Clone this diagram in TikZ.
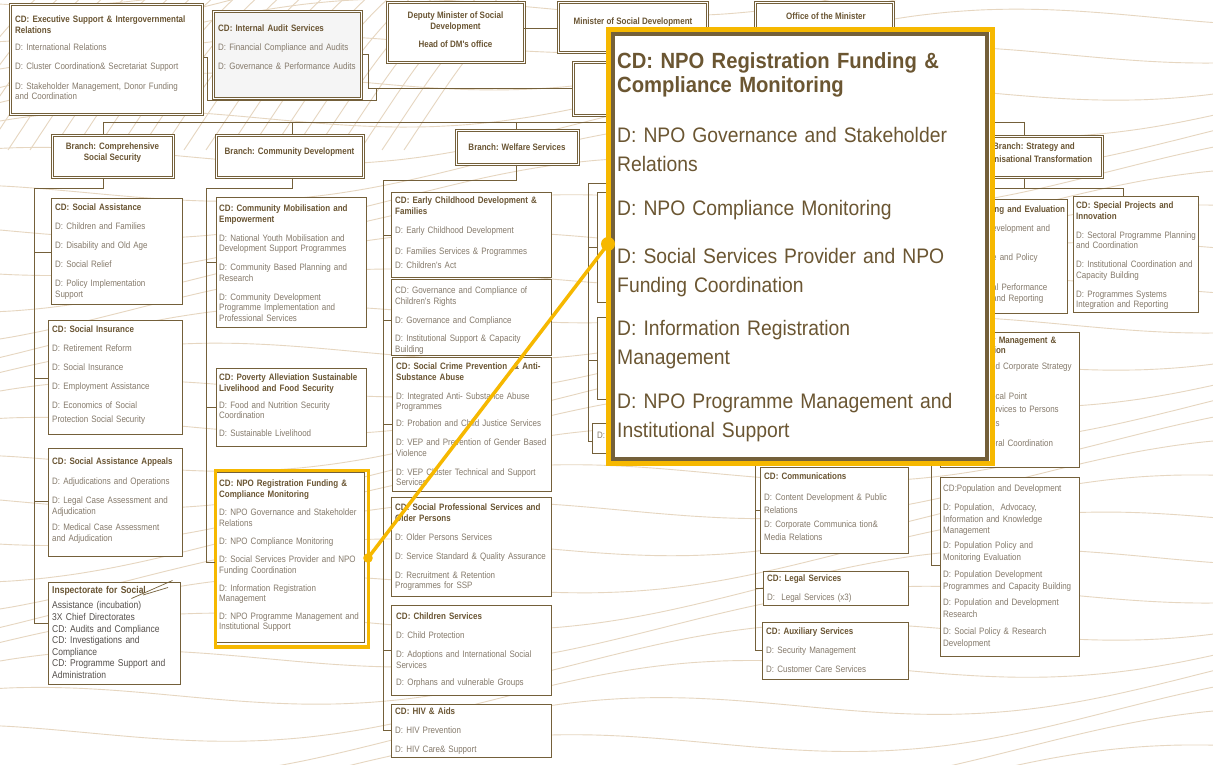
\documentclass[tikz,border=0pt]{standalone}
\usepackage{fontspec}
\setmainfont{Liberation Sans}
\newfontfamily\boxfont[FakeStretch=0.86]{Liberation Sans}
\newfontfamily\zoomfont[FakeStretch=0.92]{Liberation Sans}
\definecolor{boxline}{HTML}{74603A}
\definecolor{titlec}{HTML}{6A5533}
\definecolor{itemc}{HTML}{857A6B}
\definecolor{inspc}{HTML}{55504C}
\definecolor{zoomc}{HTML}{6B5632}
\definecolor{hl}{HTML}{F6B800}
\definecolor{wavec}{HTML}{E6D6C0}
\newcommand{\ttl}[1]{{\bfseries\color{titlec}#1}}

\begin{document}
\begin{tikzpicture}[x=1pt,y=-1pt,
  frame/.style={draw=boxline, line width=0.9pt, fill=white, inner sep=0pt, anchor=north west, rectangle},
  dframe/.style={frame, line width=0.75pt, double=white, double distance=1.4pt},
  btext/.style={inner sep=0pt, anchor=north west, align=left, text width=240pt, text=itemc,
    font=\boxfont\fontsize{9.3}{10.6}\selectfont},
  ctext/.style={inner sep=0pt, align=center, text=titlec, font=\boxfont\bfseries\fontsize{9.3}{11}\selectfont},
  link/.style={draw=boxline, line width=0.9pt},
  wave/.style={draw=wavec, line width=0.9pt},
  scribble/.style={draw=boxline, line width=0.7pt},
  callout/.style={draw=hl, line width=3.5pt},
]
\useasboundingbox (0,0) rectangle (1213,765);
\fill[white] (0,0) rectangle (1213,765);

% decorative background waves
\begin{scope}
  \clip (0,0) rectangle (1213,765);
  \foreach \k in {0,...,31} {
    \draw[wave] plot[smooth, domain=-20:1240, samples=40]
      (\x, {\k*30 - 40 - 0.08*\x + 22*sin(0.45*\x + 40*\k)});
  }
  \foreach \k in {0,...,22} {
    \draw[wave] (\k*22-80,150) .. controls (\k*22-40,90) and (\k*22-10,40) .. (\k*22+40,-5);
  }
\end{scope}

% ---------- top row ----------
\node[dframe, minimum width=192pt, minimum height=110pt] (exec) at (10,4) {};
\node[btext] (exec-t) at (15,15.5) {\ttl{CD: Executive Support \& Intergovernmental}\\\ttl{Relations}\\[6.5pt]D: International Relations\\[9pt]D: Cluster Coordination\& Secretariat Support\\[9pt]D: Stakeholder Management, Donor Funding\\and Coordination};

\node[dframe, fill=black!4, minimum width=148pt, minimum height=87pt] (audit) at (213,11) {};
\node[btext] (audit-t) at (218,24.5) {\ttl{CD: Internal Audit Services}\\[8pt]D: Financial Compliance and Audits\\[9pt]D: Governance  \& Performance Audits};

\node[dframe, minimum width=137pt, minimum height=60pt] (dm) at (387,2) {};
\node[ctext, anchor=north] (dm-t) at (455.5,12) {Deputy Minister of Social\\Development\\[7pt]Head of DM's office};

\node[dframe, minimum width=149pt, minimum height=50pt] (min) at (558,2) {};
\node[ctext] (min-t) at (633,22) {Minister of Social Development};

\node[dframe, minimum width=138pt, minimum height=40pt] (office) at (755,2) {};
\node[ctext] (office-t) at (826,16) {Office of the Minister};

\node[dframe, minimum width=110pt, minimum height=53pt] (dg) at (573,62) {};

% top connectors
\coordinate (dmj) at (524,28);
\draw[link] (dmj) -- (dmj -| min.west);
\coordinate (ex1) at (207,57);
\coordinate (ex2) at (207,100);
\coordinate (ex3) at (376,100);
\coordinate (ex4) at (376,88);
\draw[link] (ex1 -| exec.east) -- (ex1) -- (ex2) -- (ex3) -- (ex4);
\coordinate (au1) at (368,54);
\coordinate (au2) at (368,88);
\draw[link] (au1 -| audit.east) -- (au1) -- (au2) -- (au2 -| dg.west);

% main bus
\coordinate (busL) at (103,122);
\coordinate (busCD) at (292,122);
\coordinate (busWS) at (516,122);
\coordinate (busST) at (1024,122);
\draw[link] (busL) -- (busST);
\draw[link] (dg.south) -- (dg.south |- busL);

% ---------- branches ----------
\node[dframe, minimum width=121pt, minimum height=42pt] (bcss) at (52,135) {};
\node[ctext] (bcss-t) at (112.5,152.5) {Branch: Comprehensive\\Social Security};
\node[dframe, minimum width=147pt, minimum height=42pt] (bcd) at (216,135) {};
\node[ctext] (bcd-t) at (289.5,152) {Branch: Community Development};
\node[dframe, minimum width=122pt, minimum height=34pt] (bws) at (456,130) {};
\node[ctext] (bws-t) at (517,147) {Branch: Welfare Services};
\node[dframe, minimum width=142pt, minimum height=41pt] (bst) at (960,136) {};
\node[ctext, font=\boxfont\bfseries\fontsize{9.3}{13}\selectfont] (bst-t) at (1034,153.5) {Branch: Strategy and\\Organisational Transformation};

\draw[link] (busL) -- (busL |- bcss.north);
\draw[link] (busCD) -- (busCD |- bcd.north);
\draw[link] (busWS) -- (busWS |- bws.north);
\draw[link] (busST) -- (busST |- bst.north);

% ---------- Comprehensive Social Security ----------
\node[frame, minimum width=131pt, minimum height=106pt] (sa) at (51,198) {};
\node[btext] (sa-t) at (55,203.5) {\ttl{CD: Social Assistance}\\[8.5pt]D: Children and Families\\[8.5pt]D: Disability and Old Age\\[8.5pt]D: Social Relief\\[8.5pt]D: Policy Implementation\\Support};

\node[frame, minimum width=134pt, minimum height=114pt] (si) at (48,320) {};
\node[btext] (si-t) at (52,325.5) {\ttl{CD: Social Insurance}\\[8.5pt]D: Retirement Reform\\[8.5pt]D: Social Insurance\\[8.5pt]D: Employment Assistance\\[8.5pt]D: Economics of Social\\[3pt]Protection Social Security};

\node[frame, minimum width=134pt, minimum height=108pt] (sap) at (48,448) {};
\node[btext] (sap-t) at (52,457.5) {\ttl{CD: Social Assistance Appeals}\\[9pt]D: Adjudications and Operations\\[9pt]D: Legal Case Assessment and\\Adjudication\\[6pt]D: Medical Case Assessment\\and Adjudication};

\node[frame, minimum width=132pt, minimum height=102pt] (insp) at (48,582) {};
\node[btext, text=inspc, font=\boxfont\fontsize{9.9}{11.6}\selectfont] (insp-t) at (52,586.5) {\ttl{Inspectorate for Social}\\[3.4pt]Assistance (incubation)\\3X Chief Directorates\\CD: Audits and Compliance\\CD: Investigations and\\Compliance\\CD: Programme Support and\\Administration};
\draw[scribble] (131.5,598.5) -- (172.5,580.5);
\draw[scribble] (143,595) -- (168,587.5);

\coordinate (c1top) at (103,188);
\coordinate (c1a) at (34,188);
\coordinate (c1b) at (34,623);
\draw[link] (c1top |- bcss.south) -- (c1top) -- (c1a) -- (c1b) -- (c1b -| insp.west);
\coordinate (t-sa) at (34,252);
\coordinate (t-si) at (34,378);
\coordinate (t-sap) at (34,501);
\draw[link] (t-sa) -- (t-sa -| sa.west);
\draw[link] (t-si) -- (t-si -| si.west);
\draw[link] (t-sap) -- (t-sap -| sap.west);

% ---------- Community Development ----------
\node[frame, minimum width=150pt, minimum height=130pt] (cm) at (216,197) {};
\node[btext] (cm-t) at (219,204.5) {\ttl{CD: Community Mobilisation and}\\\ttl{Empowerment}\\[8.4pt]D: National Youth Mobilisation and\\Development Support Programmes\\[8.4pt]D: Community Based Planning and\\Research\\[8.4pt]D: Community Development\\Programme Implementation and\\Professional Services};

\node[frame, minimum width=150pt, minimum height=78pt] (pov) at (216,368) {};
\node[btext] (pov-t) at (219,373.5) {\ttl{CD: Poverty Alleviation Sustainable}\\\ttl{Livelihood and Food Security}\\[6.5pt]D: Food and Nutrition Security\\Coordination\\[7pt]D: Sustainable Livelihood};

\node[frame, minimum width=149pt, minimum height=170pt] (npo) at (215,472) {};
\node[btext] (npo-t) at (219,479.5) {\ttl{CD: NPO Registration Funding \&}\\\ttl{Compliance Monitoring}\\[8pt]D: NPO Governance and Stakeholder\\Relations\\[7.5pt]D: NPO Compliance Monitoring\\[8pt]D: Social Services Provider and NPO\\Funding Coordination\\[7pt]D: Information Registration\\Management\\[7pt]D: NPO Programme Management and\\Institutional Support};
\node[draw=hl, line width=3.6pt, inner sep=0pt, anchor=north west, minimum width=153pt, minimum height=176.5pt] (npo-hl) at (213.5,468.5) {};

\coordinate (c2top) at (292,188);
\coordinate (c2a) at (206,188);
\coordinate (c2b) at (206,562);
\draw[link] (c2top |- bcd.south) -- (c2top) -- (c2a) -- (c2b) -- (c2b -| npo.west);
\coordinate (t-cm) at (206,262);
\coordinate (t-pov) at (206,407);
\draw[link] (t-cm) -- (t-cm -| cm.west);
\draw[link] (t-pov) -- (t-pov -| pov.west);

% ---------- Welfare Services ----------
\node[frame, minimum width=160pt, minimum height=85pt] (ecd) at (391,192) {};
\node[btext] (ecd-t) at (395,196.5) {\ttl{CD: Early Childhood Development \&}\\\ttl{Families}\\[8.4pt]D: Early Childhood Development\\[10.4pt]D: Families Services \& Programmes\\[3.4pt]D: Children's Act};

\node[frame, minimum width=160pt, minimum height=76pt] (gov) at (391,279) {};
\node[btext] (gov-t) at (395,286.5) {CD: Governance and Compliance of\\Children's Rights\\[9pt]D: Governance and Compliance\\[7.4pt]D: Institutional Support \& Capacity\\Building};

\node[frame, minimum width=159pt, minimum height=134pt] (scp) at (392,357) {};
\node[btext] (scp-t) at (396,362.5) {\ttl{CD: Social Crime Prevention \ \& Anti-}\\\ttl{Substance Abuse}\\[8.4pt]D: Integrated Anti- Substance Abuse\\Programmes\\[6.4pt]D: Probation and Child Justice Services\\[8.4pt]D: VEP and Prevention of Gender Based\\Violence\\[8.4pt]D: VEP Cluster Technical and Support\\Services};

\node[frame, minimum width=160pt, minimum height=99pt] (spo) at (391,497) {};
\node[btext] (spo-t) at (395,503.5) {\ttl{CD: Social Professional Services and}\\\ttl{Older Persons}\\[8.4pt]D: Older Persons Services\\[8.4pt]D: Service Standard \& Quality Assurance\\[8.4pt]D: Recruitment \& Retention\\Programmes for SSP};

\node[frame, minimum width=160pt, minimum height=90pt] (chs) at (391,605) {};
\node[btext] (chs-t) at (396,612.5) {\ttl{CD: Children Services}\\[8.4pt]D: Child Protection\\[8.4pt]D: Adoptions and International Social\\Services\\[7pt]D: Orphans and vulnerable Groups};

\node[frame, minimum width=160pt, minimum height=53pt] (hiv) at (391,704) {};
\node[btext] (hiv-t) at (395,707.5) {\ttl{CD: HIV \& Aids}\\[8.4pt]D: HIV Prevention\\[8.4pt]D: HIV Care\& Support};

\coordinate (c3top) at (516,180);
\coordinate (c3a) at (383,180);
\coordinate (c3b) at (383,730);
\draw[link] (c3top |- bws.south) -- (c3top) -- (c3a) -- (c3b) -- (c3b -| hiv.west);
\coordinate (t-ecd) at (383,235);
\coordinate (t-gov) at (383,320);
\coordinate (t-scp) at (383,424);
\coordinate (t-chs) at (383,650);
\draw[link] (t-ecd) -- (t-ecd -| ecd.west);
\draw[link] (t-gov) -- (t-gov -| gov.west);
\draw[link] (t-scp) -- (t-scp -| scp.west);
\draw[link] (t-chs) -- (t-chs -| chs.west);

% ---------- column behind the enlarged view ----------
\node[frame, minimum width=60pt, minimum height=110pt] (c4a) at (597,192) {};
\node[frame, minimum width=60pt, minimum height=82pt] (c4b) at (597,317) {};
\node[frame, minimum width=60pt, minimum height=30pt] (c4c) at (592,423) {};
\node[btext] (c4c-t) at (597,431.5) {D:};
\coordinate (c4r) at (640,183);
\coordinate (c4top) at (588,183);
\coordinate (c4bot) at (588,441);
\draw[link] (c4r) -- (c4top) -- (c4bot) -- (c4bot -| c4c.west);
\coordinate (t-c4a) at (588,247);
\coordinate (t-c4b) at (588,360);
\draw[link] (t-c4a) -- (t-c4a -| c4a.west);
\draw[link] (t-c4b) -- (t-c4b -| c4b.west);

% ---------- Communications column ----------
\node[frame, minimum width=148pt, minimum height=86pt] (comms) at (760,467) {};
\node[btext, font=\boxfont\fontsize{9.3}{13}\selectfont] (comms-t) at (764,472.5) {\ttl{CD: Communications}\\[8pt]D: Content Development \& Public\\Relations\\[1pt]D: Corporate Communica tion\&\\Media Relations};

\node[frame, minimum width=145pt, minimum height=34pt] (legal) at (763,571) {};
\node[btext] (legal-t) at (767,574.5) {\ttl{CD: Legal Services}\\[8.4pt]D: \ Legal Services (x3)};

\node[frame, minimum width=146pt, minimum height=57pt] (aux) at (762,622) {};
\node[btext] (aux-t) at (766,627.5) {\ttl{CD: Auxiliary Services}\\[8.4pt]D: Security Management\\[8.4pt]D: Customer Care Services};

\coordinate (c5a) at (755,440);
\coordinate (c5b) at (755,650);
\draw[link] (c5a) -- (c5b) -- (c5b -| aux.west);
\coordinate (t-comms) at (755,510);
\coordinate (t-legal) at (755,588);
\draw[link] (t-comms) -- (t-comms -| comms.west);
\draw[link] (t-legal) -- (t-legal -| legal.west);

% ---------- Strategy and Organisational Transformation ----------
\node[frame, minimum width=125pt, minimum height=116pt] (sp) at (1073,196) {};
\node[btext] (sp-t) at (1076,201.5) {\ttl{CD: Special Projects and}\\\ttl{Innovation}\\[8.4pt]D: Sectoral Programme Planning\\and Coordination\\[8.4pt]D: Institutional Coordination and\\Capacity Building\\[8.4pt]D: Programmes Systems\\Integration and Reporting};

\node[frame, minimum width=137pt, minimum height=114pt] (me) at (930,199) {};
\node[btext] (me-t) at (992,205.5) {\ttl{ing and Evaluation}\\[8.4pt]evelopment and\\[18.4pt]e and Policy\\[19.4pt]al Performance\\and Reporting};

\node[frame, minimum width=139pt, minimum height=135pt] (mgmt) at (940,332) {};
\node[btext] (mgmt-t) at (991,336.5) {\ttl{y Management \&}\\\ttl{tion}\\[5pt]nd Corporate Strategy\\[20pt]ocal Point\\[2pt]ervices to Persons\\[3pt]es\\[10pt]oral Coordination};

\node[frame, minimum width=139pt, minimum height=179pt] (pop) at (940,477) {};
\node[btext, font=\boxfont\fontsize{9.3}{11.8}\selectfont] (pop-t) at (943,484.5) {CD:Population and Development\\[7pt]D: Population, \ Advocacy,\\Information and Knowledge\\Management\\[3pt]D: Population Policy and\\Monitoring Evaluation\\[5pt]D: Population Development\\Programmes and Capacity Building\\[5pt]D: Population and Development\\Research\\[5pt]D: Social Policy \& Research\\Development};

\coordinate (c6a) at (931,420);
\coordinate (c6b) at (931,565);
\draw[link] (c6a -| mgmt.west) -- (c6a) -- (c6b) -- (c6b -| pop.west);

\coordinate (c7a) at (1024,188);
\coordinate (c7l) at (960,188);
\coordinate (c7b) at (1123,188);
\draw[link] (c7a |- bst.south) -- (c7a);
\draw[link] (c7l) -- (c7b) -- (c7b |- sp.north);

% ---------- enlarged view of the NPO chief directorate ----------
\node[draw=hl, fill=white, line width=5pt, inner sep=0pt, anchor=north west, minimum width=383.5pt, minimum height=433.5pt] (zoom) at (606,27.5) {};
\node[draw=boxline, line width=4pt, inner sep=0pt, anchor=north west, minimum width=374.5pt, minimum height=424.5pt] (zoom-in) at (610.5,32) {};
\node[inner sep=0pt, anchor=north west, align=left, text width=360pt, text=zoomc,
  font=\zoomfont\bfseries\fontsize{22}{24.5}\selectfont] (zoom-title) at (617,52) {CD: NPO Registration Funding \&\\Compliance Monitoring};
\node[inner sep=0pt, anchor=north west, align=left, text width=360pt, text=zoomc,
  font=\zoomfont\fontsize{21}{29}\selectfont] (zoom-items) at (617,127.5) {D: NPO Governance and Stakeholder\\Relations\\[15pt]D: NPO Compliance Monitoring\\[19pt]D: Social Services Provider and NPO\\Funding Coordination\\[14pt]D: Information Registration\\Management\\[15pt]D: NPO Programme Management and\\Institutional Support};

% callout linking the highlighted box to its enlarged view
\coordinate (pin1) at (368,558);
\coordinate (pin2) at (608,244);
\draw[callout] (pin1) -- (pin2);
\fill[hl] (pin1) circle (4.8pt);
\fill[hl] (pin2) circle (7pt);
\end{tikzpicture}
\end{document}
